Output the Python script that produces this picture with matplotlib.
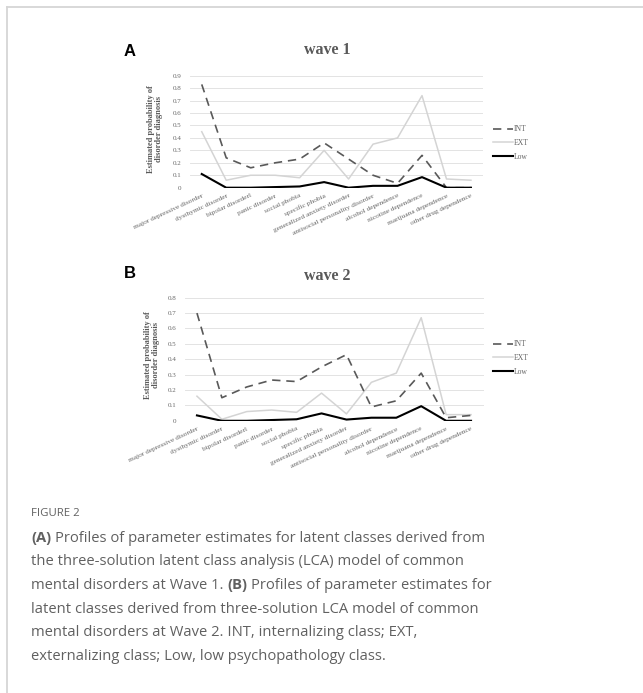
import numpy as np
import matplotlib.pyplot as plt
from matplotlib.lines import Line2D

categories = ["major depressive disorder", "dysthymic disorder", "bipolar disorderl",
              "panic disorder", "social phobia", "specific phobia",
              "generalized anxiety disorder", "antisocial personality disorder",
              "alcohol dependence", "nicotine dependence", "marijuana dependence",
              "other drug dependence"]

# wave 1
int_w1 = [0.83, 0.24, 0.16, 0.20, 0.23, 0.36, 0.23, 0.10, 0.035, 0.26, 0.0, 0.0]
ext_w1 = [0.45, 0.06, 0.10, 0.10, 0.08, 0.30, 0.07, 0.35, 0.40, 0.74, 0.07, 0.06]
low_w1 = [0.11, 0.0, 0.0, 0.005, 0.01, 0.045, 0.0, 0.015, 0.015, 0.085, 0.0, 0.0]

# wave 2
int_w2 = [0.70, 0.15, 0.22, 0.265, 0.255, 0.35, 0.43, 0.09, 0.13, 0.31, 0.02, 0.035]
ext_w2 = [0.16, 0.01, 0.06, 0.07, 0.055, 0.18, 0.045, 0.25, 0.31, 0.67, 0.04, 0.04]
low_w2 = [0.035, 0.0, 0.0, 0.005, 0.01, 0.048, 0.008, 0.02, 0.02, 0.095, 0.0, 0.0]

W, H = 643, 693
SERIF = "Liberation Serif"
GREY = "#595959"

fig = plt.figure(figsize=(W / 100, H / 100), dpi=100)


def fx(px):
    return px / W


def fy(py):
    return 1 - py / H


def panel(rect, ymax, ints, exts, lows, title, letter, title_y, letter_xy, ylab_xy, leg_y):
    l, r, t, b = rect
    ax = fig.add_axes([fx(l), fy(b), fx(r) - fx(l), fy(t) - fy(b)])
    x = np.arange(len(categories))
    ax.plot(x, exts, color="#d4d4d4", lw=1.1, label="EXT", zorder=3)
    ax.plot(x, ints, color=GREY, lw=1.2, ls=(0, (5, 3.5)), label="INT", zorder=4)
    ax.plot(x, lows, color="black", lw=1.5, label="Low", zorder=5)
    ax.set_xlim(-0.5, len(categories) - 0.5)
    ax.set_ylim(0, ymax)
    ax.set_yticks(np.round(np.arange(0, ymax + 0.001, 0.1), 1))
    ax.set_yticklabels(["0"] + ["%.1f" % v for v in np.arange(0.1, ymax + 0.001, 0.1)])
    ax.set_xticks(x)
    ax.set_xticklabels(categories, rotation=25, ha="right", va="top",
                       rotation_mode="anchor")
    for lab in ax.get_xticklabels():
        lab.set_fontfamily(SERIF)
        lab.set_fontsize(5.3)
        lab.set_color("#666666")
    for lab in ax.get_yticklabels():
        lab.set_fontfamily(SERIF)
        lab.set_fontsize(5)
        lab.set_color("#666666")
    ax.tick_params(axis="both", length=0)
    ax.tick_params(axis="x", pad=4)
    ax.tick_params(axis="y", pad=6)
    ax.grid(axis="y", color="#e3e3e3", lw=0.7)
    ax.set_axisbelow(True)
    for s in ax.spines.values():
        s.set_visible(False)

    fig.text(fx(327), fy(title_y), title, family=SERIF, weight="bold",
             fontsize=11.5, color=GREY, ha="center", va="center")
    fig.text(fx(letter_xy[0]), fy(letter_xy[1]), letter, family="Liberation Sans",
             weight="bold", fontsize=12, color="black", ha="center", va="center")
    fig.text(fx(ylab_xy[0]), fy(ylab_xy[1]),
             "Estimated probability of\ndisorder diagnosis", family=SERIF,
             weight="bold", fontsize=6, color=GREY, rotation=90,
             ha="center", va="center", multialignment="center", linespacing=1.0)

    h = {ln.get_label(): ln for ln in ax.get_lines()}
    leg = ax.legend([h["INT"], h["EXT"], h["Low"]], ["INT", "EXT", "Low"],
                    loc="center left", bbox_to_anchor=(fx(489), fy(leg_y)),
                    bbox_transform=fig.transFigure, frameon=False,
                    prop={"family": SERIF, "size": 5.5}, handlelength=2.6,
                    handletextpad=0.15, labelspacing=0.75, borderpad=0)
    for tx in leg.get_texts():
        tx.set_color("#666666")
    return ax


panel((189.5, 483.2, 75.7, 187.7), 0.9, int_w1, ext_w1, low_w1, "wave 1", "A",
      50, (130, 51), (155, 129), 143)
panel((184.5, 483.5, 297.7, 420.8), 0.8, int_w2, ext_w2, low_w2, "wave 2", "B",
      276, (130, 273), (152, 355), 358)

# card border
fig.add_artist(Line2D([fx(7), fx(7)], [fy(7), 0], color="#d6d6d6", lw=1.3))
fig.add_artist(Line2D([fx(7), 1], [fy(7), fy(7)], color="#d6d6d6", lw=1.3))

# caption
CAP = "Open Sans"
CAPC = "#606060"
CAPSIZE = 10.6
CAPX = 31
fig.text(fx(CAPX), fy(513), "FIGURE 2", family=CAP, fontsize=8.2, color=CAPC,
         va="center", ha="left")

renderer = fig.canvas.get_renderer()


def width_px(s, weight):
    t = fig.text(0, 0, s, family=CAP, fontsize=CAPSIZE, weight=weight)
    w = t.get_window_extent(renderer).width
    t.remove()
    return w


space = width_px("x x", "normal") - width_px("xx", "normal")

lines = [
    [("(A)", "bold"), ("Profiles of parameter estimates for latent classes derived from", "normal")],
    [("the three-solution latent class analysis (LCA) model of common", "normal")],
    [("mental disorders at Wave 1.", "normal"), ("(B)", "bold"),
     ("Profiles of parameter estimates for", "normal")],
    [("latent classes derived from three-solution LCA model of common", "normal")],
    [("mental disorders at Wave 2. INT, internalizing class; EXT,", "normal")],
    [("externalizing class; Low, low psychopathology class.", "normal")],
]
y0 = 538
for i, segs in enumerate(lines):
    xpos = CAPX
    for j, (s, wt) in enumerate(segs):
        if j > 0:
            xpos += space
        fig.text(fx(xpos), fy(y0 + i * 23.7), s, family=CAP, fontsize=CAPSIZE,
                 weight=wt, color=CAPC, va="center", ha="left")
        xpos += width_px(s, wt)

fig.savefig("out.png", dpi=100)
